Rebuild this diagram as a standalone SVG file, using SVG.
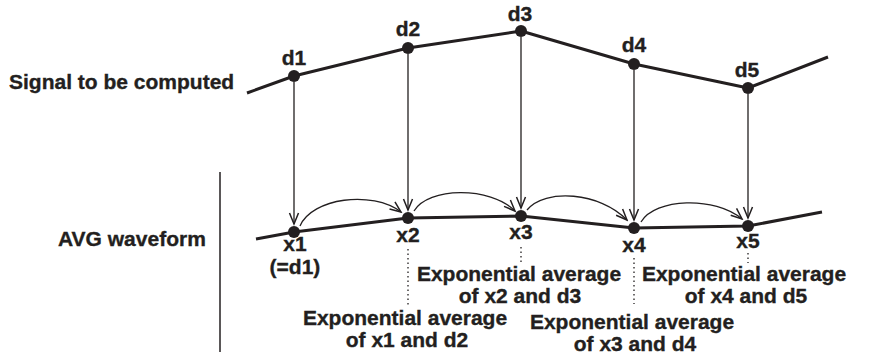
<svg xmlns="http://www.w3.org/2000/svg" width="872" height="354" viewBox="0 0 872 354">
<style>
text{font-family:"Liberation Sans",Arial,Helvetica,sans-serif;font-weight:bold;font-size:21px;fill:#231f20;stroke:#231f20;stroke-width:0.35}
.c{text-anchor:middle}
.thick{fill:none;stroke:#231f20;stroke-width:3;stroke-linejoin:round;stroke-linecap:butt}
.thin{fill:none;stroke:#231f20;stroke-width:1.3}
.dot{fill:#231f20}
.dotted{fill:none;stroke:#231f20;stroke-width:1.3;stroke-dasharray:1.5 3}
</style>
<defs>
<marker id="ah" markerUnits="userSpaceOnUse" markerWidth="14" markerHeight="12" viewBox="0 0 14 12" refX="12" refY="6" orient="auto">
<path d="M1,1.5 L12,6 L1,10.5" fill="none" stroke="#231f20" stroke-width="1.5"/>
</marker>
</defs>
<rect width="872" height="354" fill="#fff"/>
<g id="signal-label"><text x="9" y="89">Signal to be computed</text></g>
<g id="avg-label"><text x="58" y="246">AVG waveform</text></g>
<g id="separator"><line x1="220" y1="172" x2="220" y2="352" stroke="#231f20" stroke-width="1.5"/></g>
<g id="signal-line"><path class="thick" d="M247,93 L294,76 L408,48 L521,31 L634,64 L748,88 L828,57"/></g>
<g id="avg-line"><path class="thick" d="M256,239 L294,232 L408,218 L521,216 L634,228 L748,226 L822,212"/></g>
<g id="connectors">
<line class="thin" x1="294" y1="82" x2="294" y2="224" marker-end="url(#ah)"/>
<line class="thin" x1="408" y1="54" x2="408" y2="210" marker-end="url(#ah)"/>
<line class="thin" x1="521" y1="37" x2="521" y2="208" marker-end="url(#ah)"/>
<line class="thin" x1="634" y1="70" x2="634" y2="220" marker-end="url(#ah)"/>
<line class="thin" x1="748" y1="94" x2="748" y2="218" marker-end="url(#ah)"/>
<path class="thin" d="M300,226 C312,198 372,190 401,212" marker-end="url(#ah)"/>
<path class="thin" d="M414,211 C428,187 490,186 515,211" marker-end="url(#ah)"/>
<path class="thin" d="M527,210 C545,188 600,192 627,220" marker-end="url(#ah)"/>
<path class="thin" d="M641,222 C655,198 715,196 742,219" marker-end="url(#ah)"/>
<line class="dotted" x1="408" y1="249" x2="408" y2="305"/>
<line class="dotted" x1="521" y1="247" x2="521" y2="263"/>
<line class="dotted" x1="634" y1="258" x2="634" y2="304"/>
<line class="dotted" x1="748" y1="253" x2="748" y2="263"/>
</g>
<g id="d1"><circle class="dot" cx="294" cy="76" r="6"/><text class="c" x="294" y="65">d1</text></g>
<g id="d2"><circle class="dot" cx="408" cy="48" r="6"/><text class="c" x="408" y="36">d2</text></g>
<g id="d3"><circle class="dot" cx="521" cy="31" r="6"/><text class="c" x="520" y="21">d3</text></g>
<g id="d4"><circle class="dot" cx="634" cy="64" r="6"/><text class="c" x="634" y="52">d4</text></g>
<g id="d5"><circle class="dot" cx="748" cy="88" r="6"/><text class="c" x="747" y="77">d5</text></g>
<g id="x1"><circle class="dot" cx="294" cy="232" r="6"/><text class="c" x="295" y="251">x1</text><text class="c" x="295" y="274">(=d1)</text></g>
<g id="x2"><circle class="dot" cx="408" cy="218" r="6"/><text class="c" x="408" y="242">x2</text></g>
<g id="x3"><circle class="dot" cx="521" cy="216" r="6"/><text class="c" x="521" y="239">x3</text></g>
<g id="x4"><circle class="dot" cx="634" cy="228" r="6"/><text class="c" x="634" y="252">x4</text></g>
<g id="x5"><circle class="dot" cx="748" cy="226" r="6"/><text class="c" x="748" y="248">x5</text></g>
<g id="avg-x1-d2"><text class="c" x="405" y="325">Exponential average</text><text class="c" x="407" y="347">of x1 and d2</text></g>
<g id="avg-x2-d3"><text class="c" x="519" y="281">Exponential average</text><text class="c" x="520" y="303">of x2 and d3</text></g>
<g id="avg-x3-d4"><text class="c" x="632" y="329">Exponential average</text><text class="c" x="635" y="351">of x3 and d4</text></g>
<g id="avg-x4-d5"><text class="c" x="744" y="281">Exponential average</text><text class="c" x="746" y="303">of x4 and d5</text></g>
</svg>
